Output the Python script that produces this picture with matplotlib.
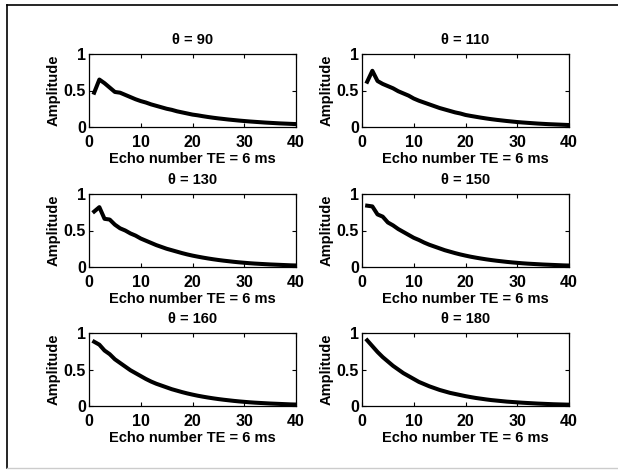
import matplotlib.pyplot as plt
from matplotlib.lines import Line2D
import numpy as np

echo = np.arange(1, 41)
angles = [90, 110, 130, 150, 160, 180]

amp_90 = [0.47, 0.65, 0.60, 0.54, 0.48, 0.47, 0.44, 0.41, 0.38, 0.355,
          0.335, 0.31, 0.29, 0.27, 0.25, 0.235, 0.215, 0.20, 0.185, 0.17,
          0.16, 0.148, 0.137, 0.127, 0.118, 0.11, 0.102, 0.095, 0.088, 0.082,
          0.076, 0.071, 0.066, 0.061, 0.057, 0.053, 0.049, 0.046, 0.043, 0.04]
amp_110 = [0.62, 0.77, 0.63, 0.59, 0.56, 0.53, 0.49, 0.46, 0.43, 0.39,
           0.36, 0.335, 0.31, 0.285, 0.26, 0.24, 0.22, 0.20, 0.185, 0.165,
           0.152, 0.14, 0.128, 0.117, 0.107, 0.098, 0.09, 0.082, 0.075, 0.068,
           0.062, 0.057, 0.052, 0.047, 0.043, 0.039, 0.036, 0.033, 0.03, 0.027]
amp_130 = [0.76, 0.82, 0.66, 0.65, 0.58, 0.53, 0.50, 0.46, 0.43, 0.39,
           0.36, 0.33, 0.30, 0.275, 0.25, 0.23, 0.21, 0.19, 0.172, 0.156,
           0.142, 0.129, 0.117, 0.106, 0.096, 0.087, 0.079, 0.071, 0.064, 0.058,
           0.052, 0.047, 0.043, 0.039, 0.035, 0.032, 0.029, 0.026, 0.023, 0.021]
amp_150 = [0.84, 0.83, 0.72, 0.69, 0.61, 0.57, 0.52, 0.48, 0.44, 0.40,
           0.37, 0.335, 0.305, 0.28, 0.255, 0.23, 0.21, 0.19, 0.172, 0.156,
           0.141, 0.128, 0.116, 0.105, 0.095, 0.086, 0.078, 0.07, 0.063, 0.057,
           0.051, 0.046, 0.042, 0.038, 0.034, 0.031, 0.028, 0.025, 0.022, 0.02]
amp_160 = [0.88, 0.84, 0.76, 0.71, 0.64, 0.59, 0.54, 0.49, 0.45, 0.41,
           0.37, 0.335, 0.305, 0.28, 0.255, 0.23, 0.21, 0.19, 0.172, 0.156,
           0.141, 0.128, 0.116, 0.105, 0.095, 0.086, 0.078, 0.07, 0.063, 0.057,
           0.051, 0.046, 0.042, 0.038, 0.034, 0.031, 0.028, 0.025, 0.022, 0.02]
amp_180 = [0.90, 0.82, 0.74, 0.67, 0.61, 0.55, 0.50, 0.45, 0.41, 0.37,
           0.33, 0.30, 0.27, 0.245, 0.22, 0.20, 0.18, 0.165, 0.15, 0.135,
           0.122, 0.11, 0.10, 0.09, 0.081, 0.074, 0.067, 0.06, 0.055, 0.05,
           0.045, 0.041, 0.037, 0.033, 0.03, 0.027, 0.024, 0.022, 0.02, 0.018]
curves = [amp_90, amp_110, amp_130, amp_150, amp_160, amp_180]

plt.rcParams['font.family'] = ['Liberation Sans', 'DejaVu Sans']
plt.rcParams['font.weight'] = 'bold'

W, H = 618, 470
fig = plt.figure(figsize=(W / 100, H / 100), dpi=100)

# axes boxes in pixels: left, top, width, height
lefts = [89, 362]
tops = [54, 194, 333]
aw, ah = 207, 73

for i, (ang, amp) in enumerate(zip(angles, curves)):
    r, c = divmod(i, 2)
    ax = fig.add_axes([lefts[c] / W, 1 - (tops[r] + ah) / H, aw / W, ah / H])
    ax.plot(echo, amp, color='black', lw=2.9, solid_joinstyle='round')
    ax.set_xlim(0, 40)
    ax.set_ylim(0, 1)
    ax.set_xticks([0, 10, 20, 30, 40])
    ax.set_yticks([0, 0.5, 1])
    ax.set_yticklabels(['0', '0.5', '1'])
    ax.tick_params(direction='in', top=True, right=True, length=3, width=0.8,
                   labelsize=11.5)
    ax.tick_params(axis='x', pad=5.5)
    ax.tick_params(axis='y', pad=2)
    for s in ax.spines.values():
        s.set_linewidth(0.9)
    ax.set_title(f'θ = {ang}', fontsize=10.5, fontweight='bold', pad=7)
    ax.set_xlabel('Echo number TE = 6 ms', fontsize=10.5, fontweight='bold', labelpad=2)
    ax.set_ylabel('Amplitude', fontsize=10.5, fontweight='bold', labelpad=2)

# figure frame
fig.add_artist(Line2D([7 / W, 7 / W], [1 - 5 / H, 1 - 468 / H], color='black', lw=1.2))
fig.add_artist(Line2D([7 / W, 1.0], [1 - 5 / H, 1 - 5 / H], color='black', lw=1.2))
fig.add_artist(Line2D([7 / W, 1.0], [1 - 468 / H, 1 - 468 / H], color='#cccccc', lw=1.0))

fig.savefig('out.png', dpi=100)
